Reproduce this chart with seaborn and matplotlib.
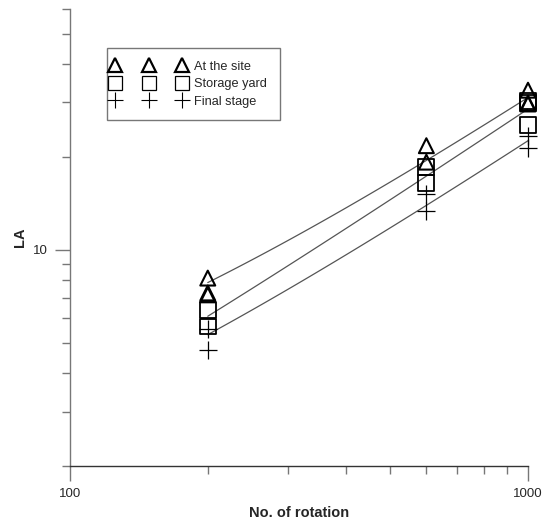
import matplotlib
matplotlib.use('Agg')
import matplotlib.pyplot as plt
from matplotlib.ticker import LogLocator, NullFormatter, FuncFormatter
from matplotlib.lines import Line2D
from matplotlib.legend_handler import HandlerLine2D
import seaborn as sns

# data
site_x = [200, 200, 200, 600, 600, 1000, 1000, 1000]
site_y = [8.1, 7.25, 7.15, 21.7, 19.2, 32.8, 29.8, 29.6]

yard_x = [200, 200, 600, 600, 1000, 1000, 1000]
yard_y = [6.4, 5.65, 18.5, 16.4, 30.2, 29.9, 25.3]

final_x = [200, 200, 600, 600, 1000, 1000]
final_y = [5.55, 4.75, 15.2, 13.3, 23.3, 21.4]

labels = ['At the site', 'Storage yard', 'Final stage']

sns.set_style('ticks')
plt.rcParams['font.family'] = ['Liberation Sans', 'DejaVu Sans']

fig = plt.figure(figsize=(5.5, 5.24), dpi=100)
ax = fig.add_axes([0.127, 0.1107, 0.833, 0.872])

line_kws = dict(color='#555555', lw=0.9)
for xs, ys in [(site_x, site_y), (yard_x, yard_y), (final_x, final_y)]:
    sns.regplot(x=xs, y=ys, scatter=False, ci=None, truncate=True,
                line_kws=line_kws, ax=ax)

sns.scatterplot(x=site_x, y=site_y, marker='^', s=115, facecolor='none',
                edgecolor='black', linewidth=1.5, ax=ax, zorder=3, clip_on=False)
sns.scatterplot(x=yard_x, y=yard_y, marker='s', s=130, facecolor='none',
                edgecolor='black', linewidth=1.3, ax=ax, zorder=3, clip_on=False)
sns.scatterplot(x=final_x, y=final_y, marker='+', s=150, color='black',
                linewidth=0.9, ax=ax, zorder=3, clip_on=False)

ax.set_xscale('log')
ax.set_yscale('log')
ax.set_xlim(100, 1000)
ax.set_ylim(2, 60)

fmt = FuncFormatter(lambda v, p: '%g' % v)
ax.xaxis.set_major_locator(LogLocator(base=10))
ax.yaxis.set_major_locator(LogLocator(base=10))
ax.xaxis.set_major_formatter(fmt)
ax.yaxis.set_major_formatter(fmt)
ax.xaxis.set_minor_locator(LogLocator(base=10, subs=range(2, 10)))
ax.yaxis.set_minor_locator(LogLocator(base=10, subs=range(2, 10)))
ax.xaxis.set_minor_formatter(NullFormatter())
ax.yaxis.set_minor_formatter(NullFormatter())

ax.tick_params(which='major', length=11, width=1, color='#777777',
               labelsize=9.5, pad=5)
ax.tick_params(which='minor', length=6, width=1, color='#777777')

sns.despine(ax=ax)
ax.spines['left'].set_color('#777777')
ax.spines['bottom'].set_color('#333333')
ax.spines['left'].set_linewidth(1)
ax.spines['bottom'].set_linewidth(1)

ax.set_xlabel('No. of rotation', fontsize=10.5, fontweight='bold', labelpad=4)
ax.set_ylabel('LA', fontsize=10.5, fontweight='bold', labelpad=4)

handles = [
    Line2D([], [], marker='^', ls='none', mfc='none', mec='black', ms=10.5, mew=1.6),
    Line2D([], [], marker='s', ls='none', mfc='none', mec='black', ms=10.5, mew=0.9),
    Line2D([], [], marker='+', ls='none', color='black', ms=12, mew=0.8),
]
leg = ax.legend(handles, labels, numpoints=3, loc='upper left',
                bbox_to_anchor=(107 / 550, 1 - 48 / 524),
                bbox_transform=fig.transFigure, borderaxespad=0,
                fontsize=9.2, handlelength=4.53, handletextpad=1.29,
                labelspacing=0.42, borderpad=1.0,
                handler_map={Line2D: HandlerLine2D(marker_pad=-0.35, numpoints=3)},
                fancybox=False, framealpha=1)
leg.get_frame().set_edgecolor('#777777')
leg.get_frame().set_linewidth(1)

fig.savefig('out.png', dpi=100)
